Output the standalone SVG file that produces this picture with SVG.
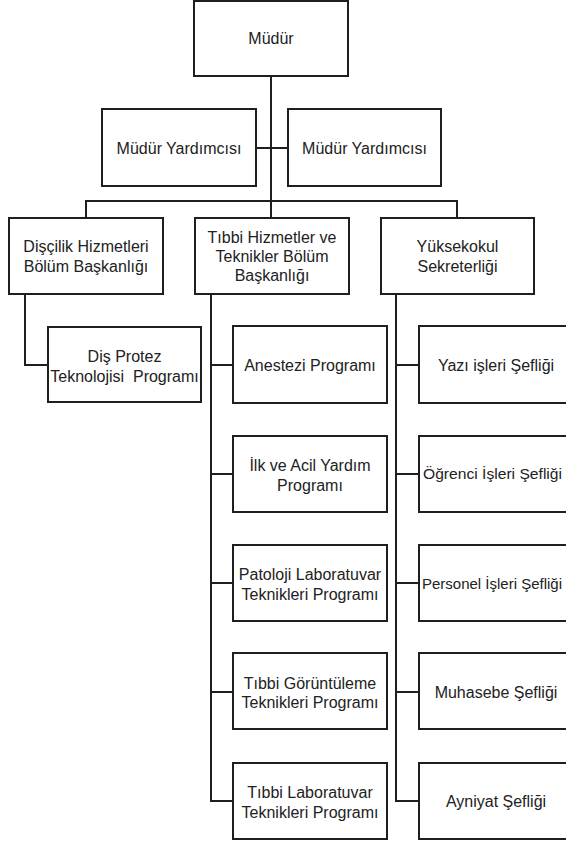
<svg xmlns="http://www.w3.org/2000/svg" width="566" height="845" viewBox="0 0 566 845">
<style>
.box{fill:#ffffff;stroke:#1f1f1f;stroke-width:2}
.ln{fill:none;stroke:#1f1f1f;stroke-width:2}
text{font-family:"Liberation Sans",Arial,sans-serif;font-size:16px;fill:#222222;text-anchor:middle}
text.fit{font-size:15px;text-anchor:start}
</style>
<rect width="566" height="845" fill="#ffffff"/>
<g id="connectors">
<path class="ln" d="M271 76V218"/>
<path class="ln" d="M256 148H288"/>
<path class="ln" d="M86 218V201H457V218"/>
<path class="ln" d="M25 294V365H48"/>
<path class="ln" d="M211 294V801H233M211 365H233M211 474H233M211 583H233M211 692H233"/>
<path class="ln" d="M396 294V801H419M396 365H419M396 474H419M396 583H419M396 692H419"/>
</g>
<g id="mudur"><rect class="box" x="194" y="1" width="154" height="75"/><text x="271" y="44">Müdür</text></g>
<g id="yardimci1"><rect class="box" x="102" y="109" width="154" height="77"/><text x="179" y="153.5">Müdür Yardımcısı</text></g>
<g id="yardimci2"><rect class="box" x="288" y="109" width="153" height="77"/><text x="364.5" y="153.5">Müdür Yardımcısı</text></g>
<g id="discilik"><rect class="box" x="9" y="218" width="154" height="76"/><text x="86" y="252">Dişçilik Hizmetleri</text><text x="86" y="271.5">Bölüm Başkanlığı</text></g>
<g id="tibbi"><rect class="box" x="195" y="218" width="154" height="76"/><text x="272" y="242.5">Tıbbi Hizmetler ve</text><text x="272" y="261.5">Teknikler Bölüm</text><text x="272" y="280.5">Başkanlığı</text></g>
<g id="yuksekokul"><rect class="box" x="381" y="218" width="153" height="76"/><text x="457.5" y="252">Yüksekokul</text><text x="457.5" y="271.5">Sekreterliği</text></g>
<g id="disprotez"><rect class="box" x="48" y="327" width="153" height="75"/><text x="124.5" y="361.5">Diş Protez</text><text x="124.5" y="381.5" xml:space="preserve">Teknolojisi  Programı</text></g>
<g id="anestezi"><rect class="box" x="233" y="326" width="154" height="77"/><text x="310" y="370.5">Anestezi Programı</text></g>
<g id="ilkyardim"><rect class="box" x="233" y="436" width="154" height="76"/><text x="310" y="470.5">İlk ve Acil Yardım</text><text x="310" y="490.5">Programı</text></g>
<g id="patoloji"><rect class="box" x="233" y="545" width="154" height="76"/><text x="310" y="579.5">Patoloji Laboratuvar</text><text x="310" y="599.5">Teknikleri Programı</text></g>
<g id="goruntuleme"><rect class="box" x="233" y="653" width="154" height="76"/><text x="310" y="688.5">Tıbbi Görüntüleme</text><text x="310" y="707.5">Teknikleri Programı</text></g>
<g id="tibbilab"><rect class="box" x="233" y="763" width="154" height="76"/><text x="310" y="797.5">Tıbbi Laboratuvar</text><text x="310" y="817.5">Teknikleri Programı</text></g>
<g id="yazi"><rect class="box" x="419" y="326" width="154" height="77"/><text x="496" y="370.5">Yazı işleri Şefliği</text></g>
<g id="ogrenci"><rect class="box" x="419" y="436" width="154" height="76"/><text class="fit" x="423" y="478.5" textLength="139" lengthAdjust="spacingAndGlyphs">Öğrenci İşleri Şefliği</text></g>
<g id="personel"><rect class="box" x="419" y="545" width="154" height="76"/><text class="fit" x="422" y="588.5" textLength="140" lengthAdjust="spacingAndGlyphs">Personel İşleri Şefliği</text></g>
<g id="muhasebe"><rect class="box" x="419" y="653" width="154" height="76"/><text x="496" y="697.5">Muhasebe Şefliği</text></g>
<g id="ayniyat"><rect class="box" x="419" y="763" width="154" height="76"/><text x="496" y="806.5">Ayniyat Şefliği</text></g>
</svg>
